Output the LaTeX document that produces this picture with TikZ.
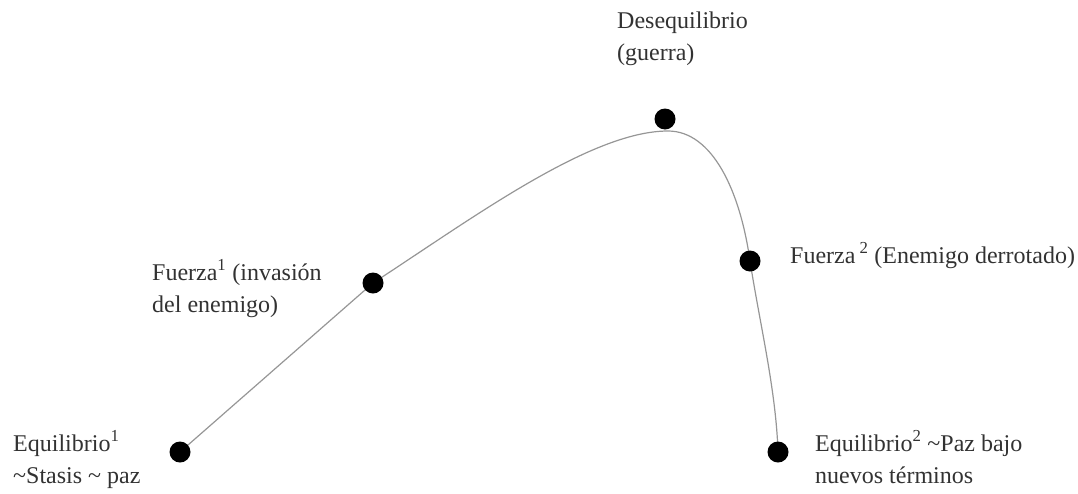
\documentclass[tikz,border=0pt]{standalone}
\usepackage{fontspec}
\setmainfont{Liberation Serif}
\usepackage{tikz}
\usetikzlibrary{positioning, backgrounds}
\definecolor{EQCurve}{RGB}{150,150,150}
\definecolor{EQText}{RGB}{50,50,50}

\begin{document}
\begin{tikzpicture}[x=1pt, y=-1pt,
    punto/.style={circle, fill=black, inner sep=0pt, minimum size=21pt},
    rotulo/.style={font=\fontsize{24}{32}\selectfont, text=EQText,
                   align=left, inner sep=0pt, anchor=base west}]
        \useasboundingbox (0,0) rectangle (1078,493);

        % Points of the cycle
        \node[punto] (eq1) at (180,452) {};
        \node[punto] (f1)  at (373,283) {};
        \node[punto] (des) at (665,119) {};
        \node[punto] (f2)  at (750,261) {};
        \node[punto] (eq2) at (778,452) {};
        \coordinate (crest) at (668,131);

        % Curve behind the points
        \begin{scope}[on background layer]
          \draw[EQCurve, line width=1.2pt]
            (eq1.center) -- (f1.center)
            .. controls (470,220) and (590,131) .. (crest)
            .. controls (712,131) and (740,190) .. (f2.center)
            .. controls (760,325) and (776,390) .. (eq2.center);
        \end{scope}

        % Labels (base = last line)
        \node[rotulo] (tdes) at (617,60) {Desequilibrio\\(guerra)};
        \node[rotulo] (tf1) at (152,312)
              {Fuerza\textsuperscript{1} (invasión\\del enemigo)};
        \node[rotulo] (tf2) at (790,263)
              {Fuerza\,\textsuperscript{2} (Enemigo derrotado)};
        \node[rotulo] (teq1) at (13,483)
              {Equilibrio\textsuperscript{1}\\\textasciitilde Stasis \textasciitilde{} paz};
        \node[rotulo] (teq2) at (815,483)
              {Equilibrio\textsuperscript{2} \textasciitilde Paz bajo\\nuevos términos};
      \end{tikzpicture}
\end{document}
